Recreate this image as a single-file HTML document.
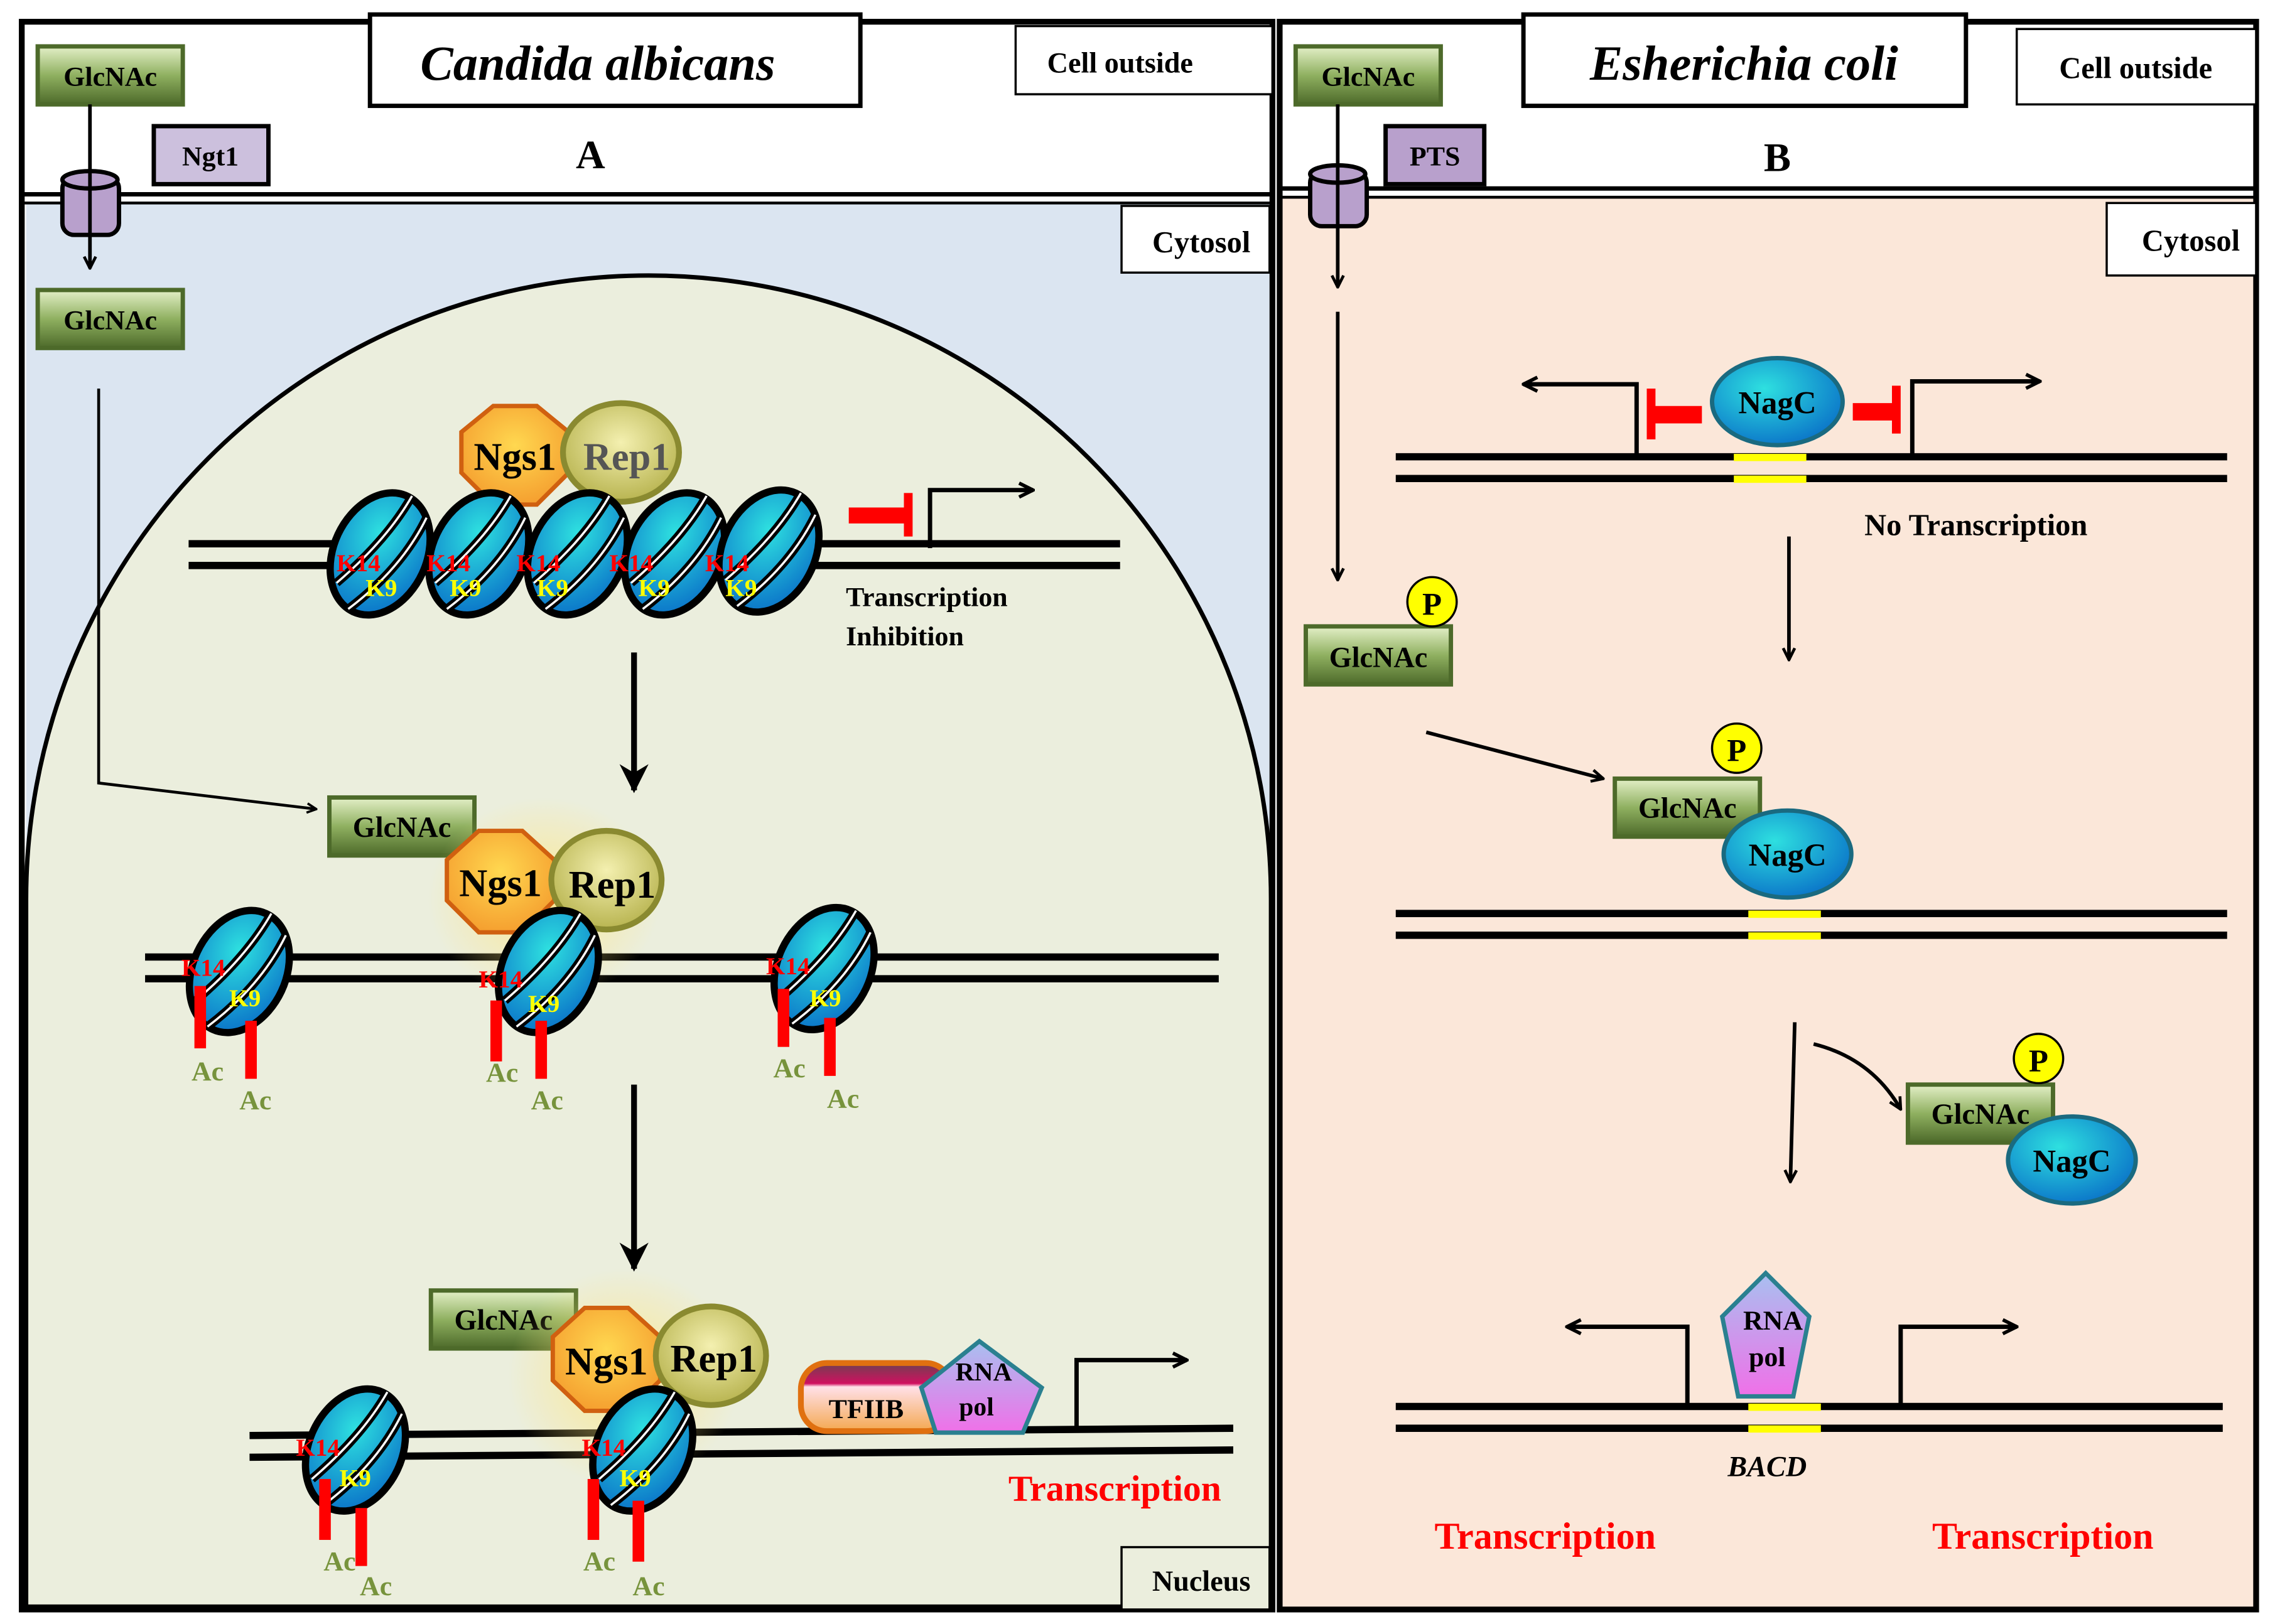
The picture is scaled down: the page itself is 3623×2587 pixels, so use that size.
<!DOCTYPE html>
<html><head><meta charset="utf-8"><style>
html,body{margin:0;padding:0;background:#fff;}
svg{display:block;}
text{font-family:"Liberation Serif",serif;font-weight:bold;}
</style></head><body>
<svg width="3623" height="2587" viewBox="0 0 1568 1120" preserveAspectRatio="none" xmlns="http://www.w3.org/2000/svg">
<defs>
<linearGradient id="gl" x1="0" y1="0" x2="0" y2="1"><stop offset="0" stop-color="#e4f0c8"/><stop offset="0.5" stop-color="#8fb060"/><stop offset="1" stop-color="#4d6a2a"/></linearGradient>
<radialGradient id="nb" cx="0.4" cy="0.35" r="0.7"><stop offset="0" stop-color="#2ee0e0"/><stop offset="1" stop-color="#0a72c8"/></radialGradient>
<radialGradient id="ng" cx="0.5" cy="0.4" r="0.6"><stop offset="0" stop-color="#ffd850"/><stop offset="1" stop-color="#f5a030"/></radialGradient>
<radialGradient id="rp" cx="0.5" cy="0.4" r="0.6"><stop offset="0" stop-color="#f4f0b0"/><stop offset="1" stop-color="#b8b450"/></radialGradient>
<radialGradient id="glow" cx="0.5" cy="0.5" r="0.5"><stop offset="0" stop-color="#ffe680" stop-opacity="0.8"/><stop offset="1" stop-color="#ffe680" stop-opacity="0"/></radialGradient>
<linearGradient id="pol" x1="0" y1="0" x2="0" y2="1"><stop offset="0" stop-color="#a8c0f0"/><stop offset="1" stop-color="#f070e8"/></linearGradient>
<linearGradient id="tf" x1="0" y1="0" x2="0" y2="1"><stop offset="0" stop-color="#704050"/><stop offset="0.3" stop-color="#d01060"/><stop offset="0.35" stop-color="#ffe0e8"/><stop offset="1" stop-color="#f4a850"/></linearGradient>
<marker id="ah" viewBox="0 0 10 10" refX="9" refY="5" markerWidth="5" markerHeight="5" orient="auto"><path d="M0,0 L10,5 L0,10 L3,5 z" fill="#000"/></marker>
<marker id="aho" viewBox="0 0 10 10" refX="9" refY="5" markerWidth="4" markerHeight="4" orient="auto"><path d="M1,1 L9,5 L1,9" fill="none" stroke="#000" stroke-width="2"/></marker>
<g id="nuc">
<ellipse cx="0" cy="0" rx="32" ry="44" transform="rotate(25)" fill="url(#nb)" stroke="#000" stroke-width="5"/>
<path d="M-30,20 Q5,-10 22,-40" fill="none" stroke="#000" stroke-width="6"/>
<path d="M-30,20 Q5,-10 22,-40" fill="none" stroke="#fff" stroke-width="1.5"/>
<path d="M-22,38 Q15,10 32,-25" fill="none" stroke="#000" stroke-width="6"/>
<path d="M-22,38 Q15,10 32,-25" fill="none" stroke="#fff" stroke-width="1.5"/>
</g>
<g id="glc"><rect x="0" y="0" width="100" height="40" fill="url(#gl)" stroke="#4d6a2a" stroke-width="3"/></g>
</defs>

<!-- LEFT PANEL -->
<rect x="15" y="15" width="862" height="1095" fill="#fff"/>
<rect x="18" y="140" width="857" height="970" fill="#dbe5f1"/>
<path d="M18,1108 L18,620 A429,430 0 0 1 876,620 L876,1108 Z" fill="#ebeedd" stroke="#000" stroke-width="3"/>
<line x1="15" y1="134" x2="877" y2="134" stroke="#000" stroke-width="3"/>
<line x1="15" y1="140" x2="877" y2="140" stroke="#000" stroke-width="2"/>
<rect x="15" y="15" width="862" height="1095" fill="none" stroke="#000" stroke-width="4"/>

<rect x="255" y="10" width="338" height="63" fill="#fff" stroke="#000" stroke-width="3"/>
<text x="412" y="55" font-size="34" font-style="italic" text-anchor="middle">Candida albicans</text>
<rect x="700" y="18" width="177" height="47" fill="#fff" stroke="#000" stroke-width="1.5"/>
<text x="772" y="50" font-size="20" text-anchor="middle">Cell outside</text>
<text x="407" y="116" font-size="28" text-anchor="middle">A</text>
<rect x="773" y="142" width="102" height="46" fill="#fff" stroke="#000" stroke-width="1.5"/>
<text x="828" y="174" font-size="21" text-anchor="middle">Cytosol</text>
<rect x="773" y="1067" width="102" height="43" fill="#ebeedd" stroke="#000" stroke-width="1.5"/>
<text x="828" y="1097" font-size="20" text-anchor="middle">Nucleus</text>

<use href="#glc" x="26" y="32"/><text x="76" y="59" font-size="19" text-anchor="middle">GlcNAc</text>
<rect x="106" y="87" width="79" height="40" fill="#ccc0dd" stroke="#000" stroke-width="3"/>
<text x="145" y="114" font-size="19" text-anchor="middle">Ngt1</text>
<rect x="43" y="122" width="39" height="40" rx="8" fill="#b8a0cc" stroke="#000" stroke-width="3"/>
<ellipse cx="62" cy="124" rx="19" ry="6" fill="#b8a0cc" stroke="#000" stroke-width="3"/>
<line x1="62" y1="72" x2="62" y2="185" stroke="#000" stroke-width="2.5" marker-end="url(#aho)"/>
<use href="#glc" x="26" y="200"/><text x="76" y="227" font-size="19" text-anchor="middle">GlcNAc</text>
<polyline points="68,268 68,540 218,558" fill="none" stroke="#000" stroke-width="2" marker-end="url(#aho)"/>

<!-- row 1 -->
<line x1="130" y1="375" x2="772" y2="375" stroke="#000" stroke-width="5"/>
<line x1="130" y1="390" x2="772" y2="390" stroke="#000" stroke-width="5"/>
<polygon points="340,280 370,280 392,298 392,326 370,348 340,348 318,326 318,298" fill="url(#ng)" stroke="#d06010" stroke-width="3"/>
<ellipse cx="428" cy="312" rx="40" ry="34" fill="url(#rp)" stroke="#8a8a30" stroke-width="4"/>
<text x="355" y="324" font-size="27" text-anchor="middle">Ngs1</text>
<text x="432" y="324" font-size="27" text-anchor="middle" fill="#555">Rep1</text>
<use href="#nuc" x="262" y="382"/><use href="#nuc" x="330" y="382"/><use href="#nuc" x="398" y="382"/><use href="#nuc" x="465" y="382"/><use href="#nuc" x="530" y="380"/>
<g font-size="17"><text x="232" y="394" fill="#f00">K14</text><text x="252" y="411" fill="#ff0">K9</text>
<text x="294" y="394" fill="#f00">K14</text><text x="310" y="411" fill="#ff0">K9</text>
<text x="356" y="394" fill="#f00">K14</text><text x="370" y="411" fill="#ff0">K9</text>
<text x="420" y="394" fill="#f00">K14</text><text x="440" y="411" fill="#ff0">K9</text>
<text x="486" y="394" fill="#f00">K14</text><text x="500" y="411" fill="#ff0">K9</text></g>
<rect x="585" y="350" width="40" height="11" fill="#f00"/><rect x="623" y="340" width="6" height="30" fill="#f00"/>
<polyline points="641,378 641,338 712,338" fill="none" stroke="#000" stroke-width="3" marker-end="url(#aho)"/>
<text x="583" y="418" font-size="19">Transcription</text>
<text x="583" y="445" font-size="19">Inhibition</text>
<line x1="437" y1="450" x2="437" y2="545" stroke="#000" stroke-width="4" marker-end="url(#ah)"/>

<!-- row 2 -->
<line x1="100" y1="660" x2="840" y2="660" stroke="#000" stroke-width="5"/>
<line x1="100" y1="675" x2="840" y2="675" stroke="#000" stroke-width="5"/>
<use href="#glc" x="227" y="550"/><text x="277" y="577" font-size="20" text-anchor="middle">GlcNAc</text>
<ellipse cx="375" cy="620" rx="80" ry="70" fill="url(#glow)"/>
<polygon points="330,573 360,573 382,593 382,621 360,643 330,643 308,621 308,593" fill="url(#ng)" stroke="#d06010" stroke-width="3"/>
<ellipse cx="418" cy="607" rx="38" ry="34" fill="url(#rp)" stroke="#8a8a30" stroke-width="4"/>
<text x="345" y="618" font-size="27" text-anchor="middle">Ngs1</text>
<text x="422" y="619" font-size="27" text-anchor="middle">Rep1</text>
<use href="#nuc" x="165" y="670"/><use href="#nuc" x="378" y="670"/><use href="#nuc" x="568" y="668"/>
<g font-size="17"><text x="125" y="673" fill="#f00">K14</text><text x="158" y="694" fill="#ff0">K9</text>
<text x="330" y="681" fill="#f00">K14</text><text x="364" y="698" fill="#ff0">K9</text>
<text x="528" y="672" fill="#f00">K14</text><text x="558" y="694" fill="#ff0">K9</text></g>
<g fill="#f00"><rect x="134" y="680" width="8" height="43"/><rect x="169" y="704" width="8" height="40"/>
<rect x="338" y="690" width="8" height="42"/><rect x="369" y="704" width="8" height="40"/>
<rect x="536" y="682" width="8" height="40"/><rect x="568" y="702" width="8" height="40"/></g>
<g font-size="19" fill="#77933c"><text x="132" y="745">Ac</text><text x="165" y="765">Ac</text>
<text x="335" y="746">Ac</text><text x="366" y="765">Ac</text><text x="533" y="743">Ac</text><text x="570" y="764">Ac</text></g>
<line x1="437" y1="748" x2="437" y2="875" stroke="#000" stroke-width="4" marker-end="url(#ah)"/>

<!-- row 3 -->
<line x1="172" y1="990" x2="850" y2="985" stroke="#000" stroke-width="5"/>
<line x1="172" y1="1005" x2="850" y2="1000" stroke="#000" stroke-width="5"/>
<use href="#glc" x="297" y="890"/><text x="347" y="917" font-size="20" text-anchor="middle">GlcNAc</text>
<ellipse cx="430" cy="950" rx="80" ry="75" fill="url(#glow)"/>
<polygon points="403,902 433,902 455,922 455,952 433,973 403,973 381,952 381,922" fill="url(#ng)" stroke="#d06010" stroke-width="3"/>
<ellipse cx="490" cy="935" rx="38" ry="34" fill="url(#rp)" stroke="#8a8a30" stroke-width="4"/>
<text x="418" y="948" font-size="27" text-anchor="middle">Ngs1</text>
<text x="492" y="946" font-size="27" text-anchor="middle">Rep1</text>
<use href="#nuc" x="245" y="1000"/><use href="#nuc" x="443" y="1000"/>
<g font-size="17"><text x="204" y="1004" fill="#f00">K14</text><text x="234" y="1025" fill="#ff0">K9</text>
<text x="401" y="1004" fill="#f00">K14</text><text x="427" y="1025" fill="#ff0">K9</text></g>
<g fill="#f00"><rect x="220" y="1020" width="8" height="42"/><rect x="245" y="1040" width="8" height="40"/>
<rect x="405" y="1020" width="8" height="42"/><rect x="436" y="1035" width="8" height="42"/></g>
<g font-size="19" fill="#77933c"><text x="223" y="1083">Ac</text><text x="248" y="1100">Ac</text><text x="402" y="1083">Ac</text><text x="436" y="1100">Ac</text></g>
<rect x="552" y="940" width="104" height="47" rx="18" fill="url(#tf)" stroke="#e07010" stroke-width="4"/>
<text x="597" y="978" font-size="19" text-anchor="middle">TFIIB</text>
<polygon points="675,925 718,957 705,988 645,988 635,957" fill="url(#pol)" stroke="#2a8090" stroke-width="3"/>
<text x="678" y="952" font-size="18" text-anchor="middle">RNA</text>
<text x="673" y="976" font-size="18" text-anchor="middle">pol</text>
<polyline points="742,985 742,938 818,938" fill="none" stroke="#000" stroke-width="3" marker-end="url(#aho)"/>
<text x="695" y="1035" font-size="25" fill="#f00">Transcription</text>

<!-- RIGHT PANEL -->
<rect x="882" y="15" width="673" height="1095" fill="#fff"/>
<rect x="884" y="137" width="670" height="972" fill="#fbe7d9"/>
<line x1="882" y1="130" x2="1555" y2="130" stroke="#000" stroke-width="3"/>
<line x1="882" y1="136" x2="1555" y2="136" stroke="#000" stroke-width="2"/>
<rect x="882" y="15" width="673" height="1095" fill="none" stroke="#000" stroke-width="4"/>
<rect x="1050" y="10" width="305" height="63" fill="#fff" stroke="#000" stroke-width="3"/>
<text x="1202" y="55" font-size="34" font-style="italic" text-anchor="middle">Esherichia coli</text>
<rect x="1390" y="20" width="165" height="52" fill="#fff" stroke="#000" stroke-width="1.5"/>
<text x="1472" y="54" font-size="21" text-anchor="middle">Cell outside</text>
<text x="1225" y="118" font-size="28" text-anchor="middle">B</text>
<rect x="1452" y="140" width="103" height="50" fill="#fff" stroke="#000" stroke-width="1.5"/>
<text x="1510" y="173" font-size="21" text-anchor="middle">Cytosol</text>

<use href="#glc" x="893" y="32"/><text x="943" y="59" font-size="19" text-anchor="middle">GlcNAc</text>
<rect x="955" y="87" width="68" height="40" fill="#b8a0cc" stroke="#000" stroke-width="3"/>
<text x="989" y="114" font-size="19" text-anchor="middle">PTS</text>
<rect x="903" y="118" width="39" height="38" rx="8" fill="#b8a0cc" stroke="#000" stroke-width="3"/>
<ellipse cx="922" cy="120" rx="19" ry="6" fill="#b8a0cc" stroke="#000" stroke-width="3"/>
<line x1="922" y1="72" x2="922" y2="198" stroke="#000" stroke-width="2.5" marker-end="url(#aho)"/>
<line x1="922" y1="215" x2="922" y2="400" stroke="#000" stroke-width="2.5" marker-end="url(#aho)"/>
<use href="#glc" x="900" y="432"/><text x="950" y="460" font-size="20" text-anchor="middle">GlcNAc</text>
<circle cx="987" cy="415" r="17" fill="#ff0" stroke="#000" stroke-width="1.5"/><text x="987" y="424" font-size="22" text-anchor="middle">P</text>

<line x1="962" y1="315" x2="1535" y2="315" stroke="#000" stroke-width="5"/>
<line x1="962" y1="330" x2="1535" y2="330" stroke="#000" stroke-width="5"/>
<rect x="1195" y="313" width="50" height="5" fill="#ff0"/><rect x="1195" y="328" width="50" height="5" fill="#ff0"/>
<ellipse cx="1225" cy="277" rx="45" ry="30" fill="url(#nb)" stroke="#1a6a80" stroke-width="3"/>
<text x="1225" y="285" font-size="22" text-anchor="middle">NagC</text>
<rect x="1140" y="280" width="33" height="12" fill="#f00"/><rect x="1135" y="268" width="6" height="35" fill="#f00"/>
<rect x="1277" y="278" width="28" height="12" fill="#f00"/><rect x="1304" y="266" width="6" height="33" fill="#f00"/>
<polyline points="1128,313 1128,265 1050,265" fill="none" stroke="#000" stroke-width="3" marker-end="url(#aho)"/>
<polyline points="1318,313 1318,263 1406,263" fill="none" stroke="#000" stroke-width="3" marker-end="url(#aho)"/>
<text x="1285" y="369" font-size="21">No Transcription</text>
<line x1="1233" y1="370" x2="1233" y2="455" stroke="#000" stroke-width="2.5" marker-end="url(#aho)"/>

<line x1="983" y1="505" x2="1105" y2="537" stroke="#000" stroke-width="2.5" marker-end="url(#aho)"/>
<line x1="962" y1="630" x2="1535" y2="630" stroke="#000" stroke-width="5"/>
<line x1="962" y1="645" x2="1535" y2="645" stroke="#000" stroke-width="5"/>
<rect x="1205" y="628" width="50" height="5" fill="#ff0"/><rect x="1205" y="643" width="50" height="5" fill="#ff0"/>
<use href="#glc" x="1113" y="537"/><text x="1163" y="564" font-size="20" text-anchor="middle">GlcNAc</text>
<circle cx="1197" cy="516" r="17" fill="#ff0" stroke="#000" stroke-width="1.5"/><text x="1197" y="525" font-size="22" text-anchor="middle">P</text>
<ellipse cx="1232" cy="589" rx="44" ry="30" fill="url(#nb)" stroke="#1a6a80" stroke-width="3"/>
<text x="1232" y="597" font-size="22" text-anchor="middle">NagC</text>

<line x1="1237" y1="705" x2="1234" y2="815" stroke="#000" stroke-width="2.5" marker-end="url(#aho)"/>
<path d="M1250,720 Q1290,730 1310,765" fill="none" stroke="#000" stroke-width="2.5" marker-end="url(#aho)"/>
<use href="#glc" x="1315" y="748"/><text x="1365" y="775" font-size="20" text-anchor="middle">GlcNAc</text>
<circle cx="1405" cy="730" r="17" fill="#ff0" stroke="#000" stroke-width="1.5"/><text x="1405" y="739" font-size="22" text-anchor="middle">P</text>
<ellipse cx="1428" cy="800" rx="44" ry="30" fill="url(#nb)" stroke="#1a6a80" stroke-width="3"/>
<text x="1428" y="808" font-size="22" text-anchor="middle">NagC</text>

<line x1="962" y1="970" x2="1532" y2="970" stroke="#000" stroke-width="5"/>
<line x1="962" y1="985" x2="1532" y2="985" stroke="#000" stroke-width="5"/>
<rect x="1205" y="968" width="50" height="5" fill="#ff0"/><rect x="1205" y="983" width="50" height="5" fill="#ff0"/>
<polygon points="1217,878 1247,908 1236,963 1198,963 1187,908" fill="url(#pol)" stroke="#2a8090" stroke-width="3"/>
<text x="1222" y="917" font-size="19" text-anchor="middle">RNA</text>
<text x="1218" y="942" font-size="19" text-anchor="middle">pol</text>
<polyline points="1163,968 1163,915 1080,915" fill="none" stroke="#000" stroke-width="3" marker-end="url(#aho)"/>
<polyline points="1310,968 1310,915 1390,915" fill="none" stroke="#000" stroke-width="3" marker-end="url(#aho)"/>
<text x="1218" y="1018" font-size="20" font-style="italic" text-anchor="middle">BACD</text>
<text x="1065" y="1068" font-size="26" fill="#f00" text-anchor="middle">Transcription</text>
<text x="1408" y="1068" font-size="26" fill="#f00" text-anchor="middle">Transcription</text>
</svg>
</body></html>
